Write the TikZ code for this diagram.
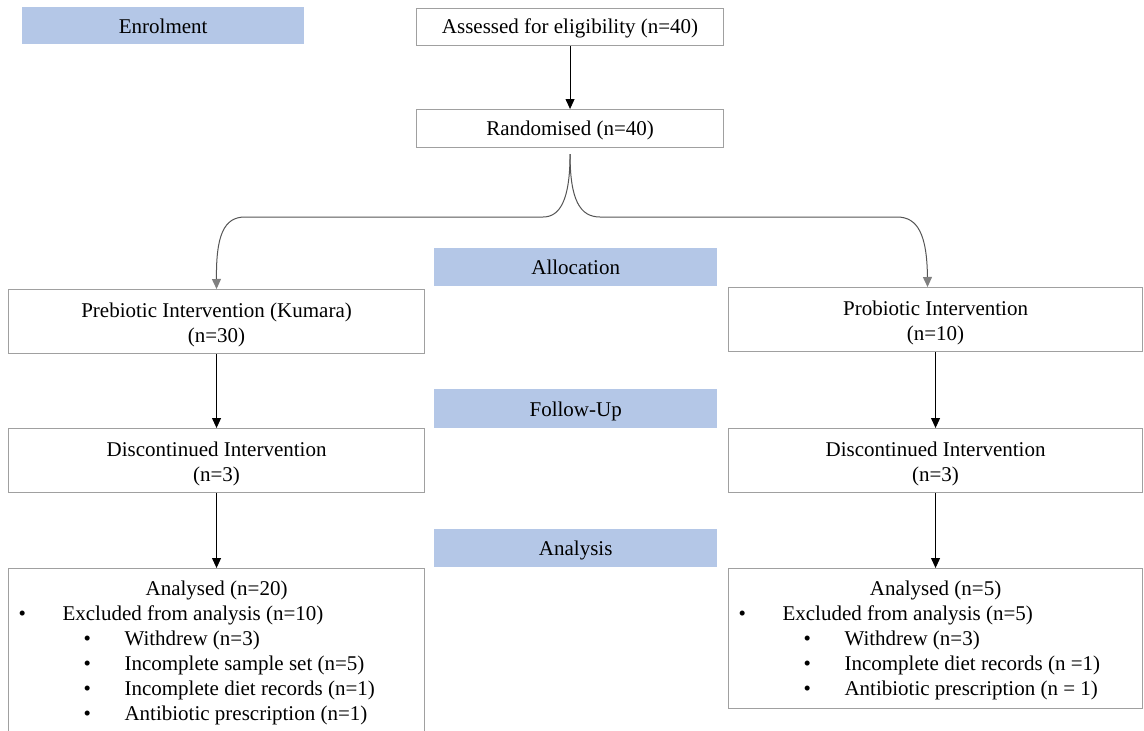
\documentclass[tikz,border=0pt]{standalone}
\usepackage{fontspec}
\setmainfont{Liberation Serif}
\usetikzlibrary{arrows.meta,calc}
\definecolor{hdrblue}{RGB}{180,199,231}
\definecolor{boxgray}{RGB}{160,160,160}
\definecolor{curvegray}{RGB}{85,85,85}
\definecolor{tipgray}{RGB}{128,128,128}
\newcommand\fstrut{\rule{0pt}{22pt}}
\newcommand\lvA[1]{\hspace*{10pt}\makebox[44pt][l]{\textbullet}#1}
\newcommand\lvB[1]{\hspace*{75pt}\makebox[41pt][l]{\textbullet}#1}
\begin{document}
\begin{tikzpicture}[x=1pt,y=-1pt,
  font=\fontsize{21}{25}\selectfont,
  hdr/.style={fill=hdrblue, draw=none, inner sep=0pt, anchor=north west, text height=15pt, text depth=0pt},
  wbox/.style={draw=boxgray, line width=1.1pt, fill=white, inner sep=0pt, anchor=north west, align=center},
  one/.style={text height=15pt, text depth=2pt},
  arr/.style={draw=black, line width=0.9pt, -{Triangle[length=10pt,width=9pt]}},
  carr/.style={draw=curvegray, line width=1pt, -{Triangle[length=10pt,width=9pt,color=tipgray]}}
]
\clip (0,0) rectangle (1144,731);
\fill[white] (0,0) rectangle (1144,731);

% phase headers
\node[hdr, minimum width=282pt, minimum height=37pt] (enrol) at (22,7) {Enrolment};
\node[hdr, minimum width=283pt, minimum height=38pt] (alloc) at (434,248) {Allocation};
\node[hdr, minimum width=283pt, minimum height=39pt] (follow) at (434,389) {Follow-Up};
\node[hdr, minimum width=283pt, minimum height=38pt] (analysis) at (434,529) {Analysis};

% top boxes
\node[wbox, one, minimum width=307pt, minimum height=37pt] (assess) at (416,8) {Assessed for eligibility (n=40)};
\node[wbox, one, minimum width=307pt, minimum height=38pt] (rand) at (416,109) {Randomised (n=40)};

% arms
\node[wbox, minimum width=416pt, minimum height=64pt] (pre) at (8,289) {\fstrut Prebiotic Intervention (Kumara)\\(n=30)};
\node[wbox, minimum width=414pt, minimum height=64pt] (pro) at (728,287) {\fstrut Probiotic Intervention\\(n=10)};
\node[wbox, minimum width=416pt, minimum height=64pt] (dis1) at (8,428) {\fstrut Discontinued Intervention\\(n=3)};
\node[wbox, minimum width=414pt, minimum height=64pt] (dis2) at (728,428) {\fstrut Discontinued Intervention\\(n=3)};

\node[wbox, align=left, minimum width=416pt, minimum height=170pt] (an1) at (8,568)
  {\makebox[416pt]{\rule{0pt}{15pt}Analysed (n=20)}\\
   \lvA{Excluded from analysis (n=10)}\\
   \lvB{Withdrew (n=3)}\\
   \lvB{Incomplete sample set (n=5)}\\
   \lvB{Incomplete diet records (n=1)}\\
   \lvB{Antibiotic prescription (n=1)\rule[-6pt]{0pt}{6pt}}};
\node[wbox, align=left, minimum width=414pt, minimum height=140pt] (an2) at (728,568)
  {\makebox[414pt]{\rule{0pt}{19pt}Analysed (n=5)}\\
   \lvA{Excluded from analysis (n=5)}\\
   \lvB{Withdrew (n=3)}\\
   \lvB{Incomplete diet records (n =1)}\\
   \lvB{Antibiotic prescription (n = 1)\rule[-5pt]{0pt}{5pt}}};

% connectors
\draw[arr] (assess) -- (rand);
\draw[carr] ([yshift=-6pt]rand.south) .. controls (570,200) and (560,217) .. (543,217) -- (245,217) .. controls (224,217) and (216,235) .. (pre.north);
\draw[carr] ([yshift=-6pt]rand.south) .. controls (570,200) and (580,217) .. (600,217) -- (897,217) .. controls (918,217) and (927,235) .. ([xshift=-8pt]pro.north);
\draw[arr] (pre) -- (dis1);
\draw[arr] (dis1) -- (an1);
\draw[arr] (pro) -- (dis2);
\draw[arr] (dis2) -- (an2);
\end{tikzpicture}
\end{document}
